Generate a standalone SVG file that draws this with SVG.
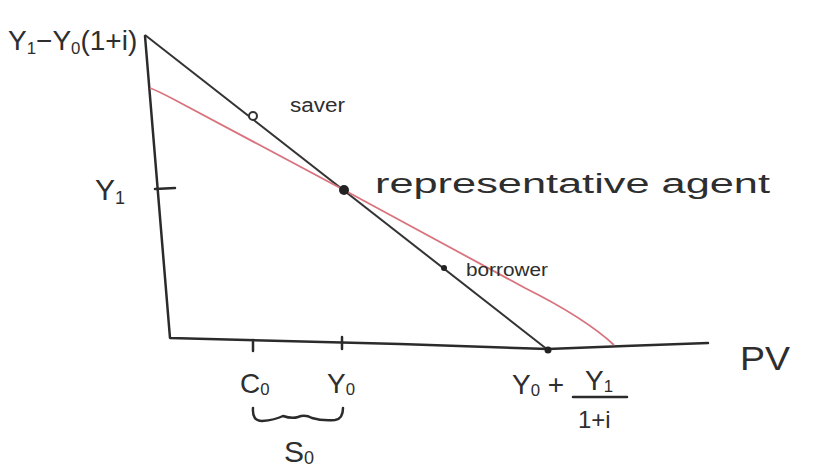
<svg xmlns="http://www.w3.org/2000/svg" width="822" height="470" viewBox="0 0 822 470">
<style>
.ax{fill:none;stroke:#2b2b2b;stroke-width:2.5;stroke-linecap:round;stroke-linejoin:round}
.bl{fill:none;stroke:#333;stroke-width:2}
.rd{fill:none;stroke:#d9737e;stroke-width:1.8}
.t{font-family:"Liberation Sans","DejaVu Sans",sans-serif;fill:#2e2e2e}
.sub{font-size:60%}
</style>
<rect width="822" height="470" fill="#ffffff"/>
<g id="axes">
<path class="ax" d="M145,36 L170,338 L400,344 L548,349 L625,346 L708,343"/>
<path class="ax" d="M155,189 L175,188"/>
<path class="ax" d="M253,340 L253,351"/>
<path class="ax" d="M342,337 L342,349"/>
</g>
<g id="connectors">
<path class="bl" d="M145,35 L548,350"/>
<path class="rd" d="M150,88 Q158,91 175,100 L344,190 L525,288 Q585,318 614,345"/>
</g>
<g id="saver">
<circle cx="253" cy="116" r="4" fill="#fff" stroke="#333" stroke-width="2"/>
<text class="t" x="290" y="112" font-size="20" textLength="55" lengthAdjust="spacingAndGlyphs">saver</text>
</g>
<g id="representative-agent">
<circle cx="344" cy="190" r="5" fill="#222"/>
<text class="t" x="375" y="193" font-size="27" textLength="395" lengthAdjust="spacingAndGlyphs">representative agent</text>
</g>
<g id="borrower">
<circle cx="444" cy="268" r="3" fill="#222"/>
<text class="t" x="466" y="276" font-size="18" textLength="82" lengthAdjust="spacingAndGlyphs">borrower</text>
</g>
<g id="end-point">
<circle cx="548" cy="350" r="3.5" fill="#222"/>
</g>
<g id="labels">
<text class="t" x="8" y="50" font-size="28">Y<tspan class="sub" dy="4">1</tspan><tspan dy="-4">−Y</tspan><tspan class="sub" dy="4">0</tspan><tspan dy="-4">(1+i)</tspan></text>
<text class="t" x="95" y="200" font-size="30">Y<tspan class="sub" dy="4">1</tspan></text>
<text class="t" x="240" y="393" font-size="28">C<tspan class="sub" dy="2">0</tspan></text>
<text class="t" x="327" y="393" font-size="28">Y<tspan class="sub" dy="2">0</tspan></text>
<path class="ax" stroke-width="2" d="M253,408 Q252,421 262,421 Q275,420 283,416 Q292,419 298,417 Q305,414 312,418 Q322,421 335,420 Q343,419 343,408"/>
<text class="t" x="284" y="462" font-size="30">S<tspan class="sub" dy="2">0</tspan></text>
<text class="t" x="512" y="394" font-size="28">Y<tspan class="sub" dy="2">0</tspan><tspan dy="-2"> +</tspan></text>
<text class="t" x="585" y="390" font-size="28">Y<tspan class="sub" dy="2">1</tspan></text>
<path class="ax" stroke-width="2" d="M573,397 L627,397"/>
<text class="t" x="578" y="428" font-size="24">1+i</text>
<text class="t" x="740" y="370" font-size="34" textLength="50" lengthAdjust="spacingAndGlyphs">PV</text>
</g>
</svg>
